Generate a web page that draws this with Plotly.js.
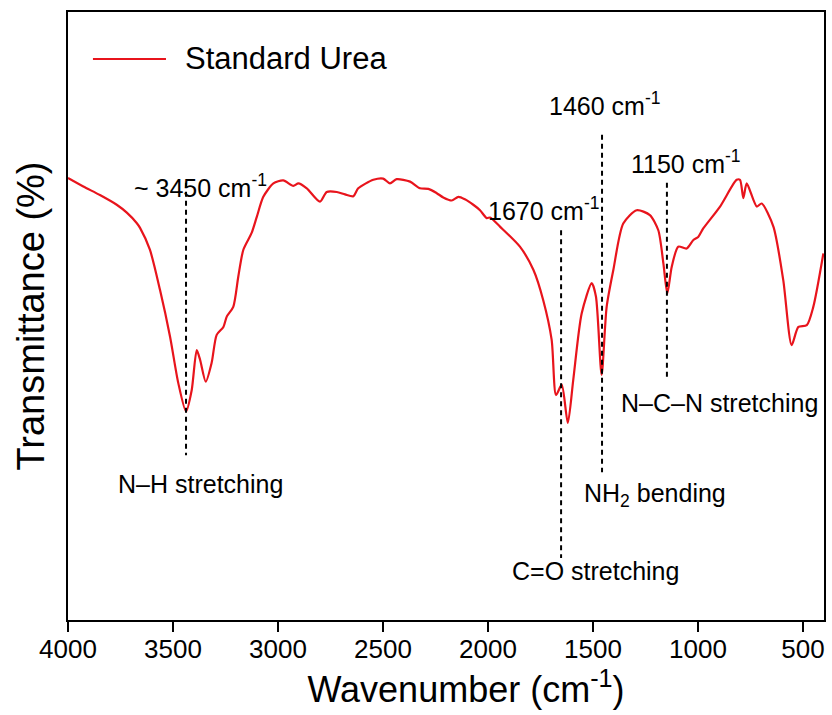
<!DOCTYPE html>
<html>
<head>
<meta charset="utf-8">
<script src="https://cdn.plot.ly/plotly-3.0.1.min.js"></script>
<style>html,body{margin:0;padding:0;background:#fff;}#chart{width:832px;height:715px;}</style>
</head>
<body>
<div id="chart"></div>
<script>
// FTIR spectrum of standard urea
const wavenumber = [4000,3927,3848,3768,3720,3673,3657,3610,3562,3514,3475,3438,3411,3387,3371,3344,3316,3292,3260,3244,3213,3189,3165,3125,3101,3070,3022,2975,2927,2903,2863,2800,2768,2720,2681,2641,2618,2546,2499,2467,2435,2371,2324,2284,2244,2213,2173,2141,2110,2070,2038,2006,1990,1943,1848,1784,1737,1697,1676,1649,1620,1594,1554,1506,1486,1459,1435,1403,1356,1292,1229,1189,1165,1146,1125,1094,1054,1022,999,975,895,816,800,784,768,720,697,641,594,554,522,482,451,403];
const transmittance = [72.7,71.3,69.9,68.3,67.0,65.3,64.5,60.9,54.3,46.6,39.0,34.3,37.8,44.4,42.8,39.2,42.3,46.9,48.2,49.9,51.5,56.5,60.9,63.7,66.3,69.6,71.8,72.3,71.4,71.8,71.0,68.8,70.4,70.4,70.0,69.7,71.0,72.4,72.6,71.8,72.5,72.1,71.0,70.9,70.2,69.5,69.0,69.6,69.2,68.3,67.4,66.1,66.2,64.7,61.4,57.6,52.6,46.1,37.0,38.7,32.4,39.5,50.4,55.4,53.2,40.3,51.5,57.6,65.2,67.4,66.6,64.1,58.7,53.7,58.1,61.4,61.1,62.5,63.0,64.4,68.0,72.4,72.4,69.4,71.8,68.0,68.5,64.7,55.9,45.2,48.2,48.5,51.5,60.3];
const seriesName = "Standard Urea";

// Marked peaks
const peakPositions = [3438, 1652, 1457, 1148];
const peakLabels = ["~ 3450 cm<sup>-1</sup>", "1670 cm<sup>-1</sup>", "1460 cm<sup>-1</sup>", "1150 cm<sup>-1</sup>"];
const bandLabels = ["N\u2013H stretching", "C=O stretching", "NH<sub>2</sub> bending", "N\u2013C\u2013N stretching"];

const xTicks = [4000, 3500, 3000, 2500, 2000, 1500, 1000, 500];

const FONT = "Liberation Sans, Arial, sans-serif";
const RED = "#e8141c";

// dashed guide extents (y, transmittance units) and label placement
const lineSpans = [[71.9, 27.1], [64.1, 10.2], [79.8, 24.3], [71.9, 39.5]];
const peakLabelPos = [[3371, 71.4], [1738, 67.6], [1443, 84.9], [1057, 75.3]];
const bandLabelPos = [[3367, 22.4], [1486, 8.0], [1205, 20.5], [900, 35.7]];

const shapes = peakPositions.map((p, i) => ({
  type: "line", xref: "x", yref: "y",
  x0: p, x1: p, y0: lineSpans[i][0], y1: lineSpans[i][1],
  line: {color: "#000", width: 2, dash: "5px,4px"}
}));
// legend sample line
shapes.push({type: "line", xref: "paper", yref: "paper", x0: 0.033, x1: 0.1296, y0: 0.9227, y1: 0.9227,
  line: {color: RED, width: 2}});

const annotations = [];
peakLabels.forEach((t, i) => annotations.push({
  text: t, x: peakLabelPos[i][0], y: peakLabelPos[i][1], xref: "x", yref: "y",
  showarrow: false, xanchor: "center", yanchor: "middle", font: {family: FONT, size: 25, color: "#000"}
}));
bandLabels.forEach((t, i) => annotations.push({
  text: t, x: bandLabelPos[i][0], y: bandLabelPos[i][1], xref: "x", yref: "y",
  showarrow: false, xanchor: "center", yanchor: "middle", font: {family: FONT, size: 25, color: "#000"}
}));
annotations.push({text: seriesName, x: 0.152, y: 0.9227, xref: "paper", yref: "paper",
  showarrow: false, xanchor: "left", yanchor: "middle", font: {family: FONT, size: 31, color: "#000"}});

const trace = {
  x: wavenumber, y: transmittance, type: "scatter", mode: "lines", name: seriesName,
  line: {color: RED, width: 2.2, shape: "spline", smoothing: 0.7}
};

const layout = {
  width: 832, height: 715,
  margin: {l: 68, r: 8, t: 12, b: 95},
  paper_bgcolor: "#fff", plot_bgcolor: "#fff",
  showlegend: false,
  font: {family: FONT, color: "#000"},
  xaxis: {
    range: [4000, 400], tickvals: xTicks, ticktext: xTicks.map(String),
    ticks: "outside", ticklen: 10, tickwidth: 2, tickcolor: "#000",
    ticklabelstandoff: -5,
    showline: true, linewidth: 2, linecolor: "#000", mirror: true,
    showgrid: false, zeroline: false,
    tickfont: {family: FONT, size: 26, color: "#000"},
    title: {text: "&nbsp;&nbsp;&nbsp;&nbsp;Wavenumber (cm<sup>-1</sup>)", font: {family: FONT, size: 36, color: "#000"}, standoff: 8}
  },
  yaxis: {
    range: [0, 100], showticklabels: false, ticks: "",
    showline: true, linewidth: 2, linecolor: "#000", mirror: true,
    showgrid: false, zeroline: false,
    title: {text: "Transmittance (%)", font: {family: FONT, size: 38, color: "#000"}, standoff: 10}
  },
  shapes: shapes,
  annotations: annotations
};

Plotly.newPlot("chart", [trace], layout, {displayModeBar: false, staticPlot: true});
</script>
</body>
</html>
